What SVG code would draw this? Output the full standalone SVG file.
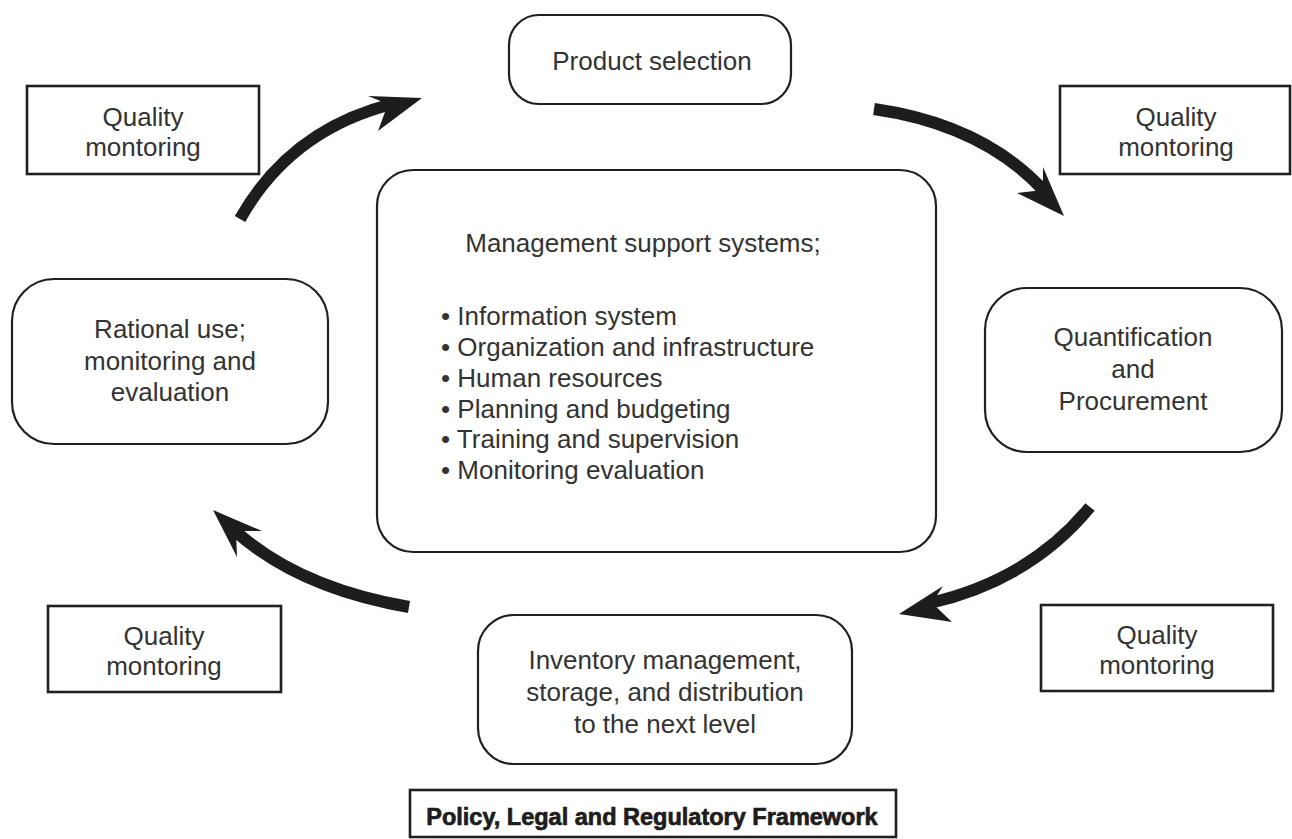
<svg xmlns="http://www.w3.org/2000/svg" width="1292" height="839" viewBox="0 0 1292 839">
<style>
.box{fill:#fff;stroke:#231f20;stroke-width:2.2}
.q{fill:#fff;stroke:#231f20;stroke-width:2.6}
.t{font-family:"Liberation Sans",Arial,sans-serif;font-size:26px;fill:#333;text-anchor:middle}
.tl{font-family:"Liberation Sans",Arial,sans-serif;font-size:26px;fill:#333}
.shaft{fill:none;stroke:#1e1c1d;stroke-width:12;stroke-linecap:butt}
.head{fill:#1e1c1d}
.pol{font-family:"Liberation Sans",Arial,sans-serif;font-size:23.5px;font-weight:bold;fill:#1e1c1d;stroke:#1e1c1d;stroke-width:0.7;text-anchor:middle}
</style>
<rect width="1292" height="839" fill="#fff"/>

<g id="product-selection">
<rect class="box" x="509" y="15" width="282" height="89" rx="30"/>
<text class="t" x="652" y="70">Product selection</text>
</g>

<g id="quality-tl">
<rect class="q" x="27" y="86" width="232" height="88"/>
<text class="t" x="143" y="126">Quality</text>
<text class="t" x="143" y="156">montoring</text>
</g>

<g id="quality-tr">
<rect class="q" x="1060" y="86" width="230" height="88"/>
<text class="t" x="1176" y="126">Quality</text>
<text class="t" x="1176" y="156">montoring</text>
</g>

<g id="management">
<rect class="box" x="377" y="170" width="559" height="382" rx="36"/>
<text class="t" x="643" y="252">Management support systems;</text>
<text class="tl" x="441" y="325">• Information system</text>
<text class="tl" x="441" y="356">• Organization and infrastructure</text>
<text class="tl" x="441" y="387">• Human resources</text>
<text class="tl" x="441" y="418">• Planning and budgeting</text>
<text class="tl" x="441" y="448">• Training and supervision</text>
<text class="tl" x="441" y="479">• Monitoring evaluation</text>
</g>

<g id="rational-use">
<rect class="box" x="12" y="279" width="316" height="165" rx="42"/>
<text class="t" x="170" y="338">Rational use;</text>
<text class="t" x="170" y="370">monitoring and</text>
<text class="t" x="170" y="401">evaluation</text>
</g>

<g id="quantification">
<rect class="box" x="985" y="288" width="297" height="164" rx="42"/>
<text class="t" x="1133" y="346">Quantification</text>
<text class="t" x="1133" y="378">and</text>
<text class="t" x="1133" y="410">Procurement</text>
</g>

<g id="inventory">
<rect class="box" x="478" y="615" width="374" height="149" rx="36"/>
<text class="t" x="665" y="669">Inventory management,</text>
<text class="t" x="665" y="701">storage, and distribution</text>
<text class="t" x="665" y="733">to the next level</text>
</g>

<g id="quality-bl">
<rect class="q" x="48" y="606" width="233" height="86"/>
<text class="t" x="164" y="645">Quality</text>
<text class="t" x="164" y="675">montoring</text>
</g>

<g id="quality-br">
<rect class="q" x="1041" y="605" width="232" height="86"/>
<text class="t" x="1157" y="644">Quality</text>
<text class="t" x="1157" y="674">montoring</text>
</g>

<g id="policy">
<rect class="q" x="410" y="790" width="486" height="47"/>
<text class="pol" x="652" y="825">Policy, Legal and Regulatory Framework</text>
</g>

<g id="connectors">
<path class="shaft" d="M240,219 Q290,130 392,104"/>
<polygon class="head" points="422,98 378,131 388,104 368,96"/>
<path class="shaft" d="M874,109 Q985,125 1046,193"/>
<polygon class="head" points="1064,216 1017,193 1043,190 1043,167"/>
<path class="shaft" d="M1090,507 Q1030,580 930,603"/>
<polygon class="head" points="899,614 943,586 932,603 952,622"/>
<path class="shaft" d="M409,607 Q298,588 234,530"/>
<polygon class="head" points="213,510 262,531 236,531 237,557"/>
</g>
</svg>
